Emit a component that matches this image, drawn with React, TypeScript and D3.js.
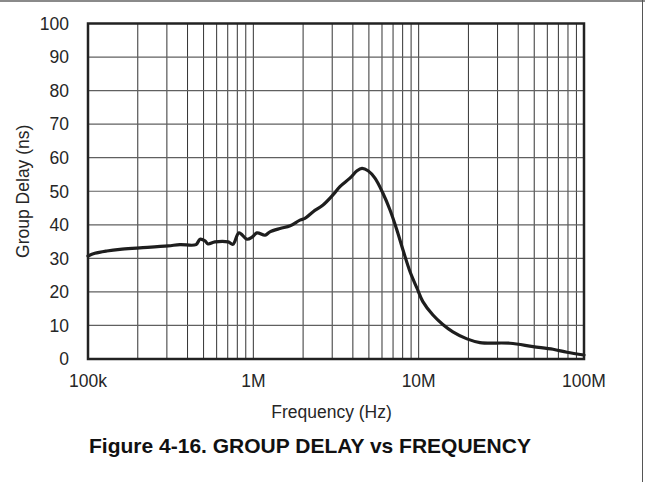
import React from "react";
import * as d3 from "d3";

// Measured group delay, frequency in Hz and delay in ns
const frequencies: number[] = [
  1.0e5, 1.1e5, 1.3e5, 1.56e5, 2.06e5, 3.05e5, 3.6e5, 4.5e5, 4.76e5, 5.1e5,
  5.32e5, 5.86e5, 7.03e5, 7.53e5, 8.19e5, 9.16e5, 9.82e5, 1.052e6, 1.177e6,
  1.26e6, 1.45e6, 1.67e6, 1.915e6, 2.05e6, 2.3e6, 2.64e6, 3.03e6, 3.34e6,
  3.84e6, 4.24e6, 4.54e6, 4.94e6, 5.44e6, 6.08e6, 6.71e6, 7.39e6, 8.04e6,
  8.87e6, 9.77e6, 1.06e7, 1.22e7, 1.4e7, 1.61e7, 1.96e7, 2.35e7, 3.57e7,
  4.92e7, 6.5e7, 7.89e7, 1.0e8,
];
const groupDelay: number[] = [
  30.7, 31.5, 32.2, 32.7, 33.1, 33.7, 34.1, 34.1, 35.7, 35.2,
  34.3, 34.9, 34.9, 34.2, 37.6, 35.7, 36.3, 37.6, 36.9,
  37.9, 38.9, 39.7, 41.4, 41.9, 43.9, 45.9, 48.9, 51.4,
  53.9, 56.1, 56.8, 56.1, 53.9, 49.4, 44.4, 38.4, 32.5,
  26.0, 21.1, 17.1, 13.1, 10.3, 8.1, 6.0, 4.9, 4.7,
  3.7, 2.9, 2.0, 1.2,
];

const yTicks: number[] = [0, 10, 20, 30, 40, 50, 60, 70, 80, 90, 100];
const xTickValues: number[] = [1e5, 1e6, 1e7, 1e8];
const xTickLabels: string[] = ["100k", "1M", "10M", "100M"];

const xLabel = "Frequency (Hz)";
const yLabel = "Group Delay (ns)";
const title = "Figure 4-16. GROUP DELAY vs FREQUENCY";

const W = 645;
const H = 482;
const plot = { left: 88, right: 584, top: 23.5, bottom: 359 };
const font = "Arial, 'Liberation Sans', Helvetica, sans-serif";
const labelSize = 17.5;

export default function App() {
  const x = d3.scaleLog().domain([1e5, 1e8]).range([plot.left, plot.right]);
  const y = d3.scaleLinear().domain([0, 100]).range([plot.bottom, plot.top]);

  // minor + major vertical grid positions: 1..9 x each decade
  const gridX: number[] = [];
  for (const dec of [1e5, 1e6, 1e7]) {
    for (let m = 1; m <= 9; m++) gridX.push(dec * m);
  }
  gridX.push(1e8);

  const pts = frequencies.map((f, i) => [f, groupDelay[i]] as [number, number]);
  const line = d3
    .line<[number, number]>()
    .x((d) => x(d[0]))
    .y((d) => y(d[1]))
    .curve(d3.curveCatmullRom.alpha(0.5));

  return (
    <svg
      width={W}
      height={H}
      style={{ position: "absolute", left: 0, top: 0, background: "#fff" }}
    >
      {/* frame edges */}
      <line x1={0} x2={W} y1={1} y2={1} stroke="#8a8a8a" strokeWidth={2} />
      <line x1={642.5} x2={642.5} y1={0} y2={H} stroke="#555" strokeWidth={1} />

      {/* grid */}
      {gridX.map((f, i) => (
        <line
          key={"gx" + i}
          x1={x(f)}
          x2={x(f)}
          y1={plot.top}
          y2={plot.bottom}
          stroke="#333"
          strokeWidth={1}
        />
      ))}
      {yTicks.map((t) => (
        <line
          key={"gy" + t}
          x1={plot.left}
          x2={plot.right}
          y1={y(t)}
          y2={y(t)}
          stroke="#606060"
          strokeWidth={1.2}
        />
      ))}

      {/* curve */}
      <path
        d={line(pts) || ""}
        fill="none"
        stroke="#1e1e1e"
        strokeWidth={3.2}
        strokeLinejoin="round"
        strokeLinecap="round"
      />

      {/* plot border */}
      <rect
        x={plot.left}
        y={plot.top}
        width={plot.right - plot.left}
        height={plot.bottom - plot.top}
        fill="none"
        stroke="#222"
        strokeWidth={2.5}
      />

      {/* y tick labels */}
      {yTicks.map((t) => (
        <text
          key={"ty" + t}
          x={69}
          y={y(t)}
          dy="0.36em"
          textAnchor="end"
          fontFamily={font}
          fontSize={labelSize}
          fill="#262626"
        >
          {t}
        </text>
      ))}

      {/* x tick labels */}
      {xTickValues.map((v, i) => (
        <text
          key={"tx" + i}
          x={x(v)}
          y={387}
          textAnchor="middle"
          fontFamily={font}
          fontSize={labelSize}
          fill="#262626"
        >
          {xTickLabels[i]}
        </text>
      ))}

      {/* axis titles */}
      <text
        x={331.5}
        y={417.5}
        textAnchor="middle"
        fontFamily={font}
        fontSize={labelSize}
        fill="#262626"
      >
        {xLabel}
      </text>
      <text
        transform={`translate(28.5, ${(plot.top + plot.bottom) / 2}) rotate(-90)`}
        textAnchor="middle"
        fontFamily={font}
        fontSize={labelSize}
        fill="#262626"
      >
        {yLabel}
      </text>

      {/* figure caption */}
      <text
        x={310}
        y={453}
        textAnchor="middle"
        fontFamily={font}
        fontSize={21}
        fontWeight="bold"
        fill="#111"
      >
        {title}
      </text>
    </svg>
  );
}
